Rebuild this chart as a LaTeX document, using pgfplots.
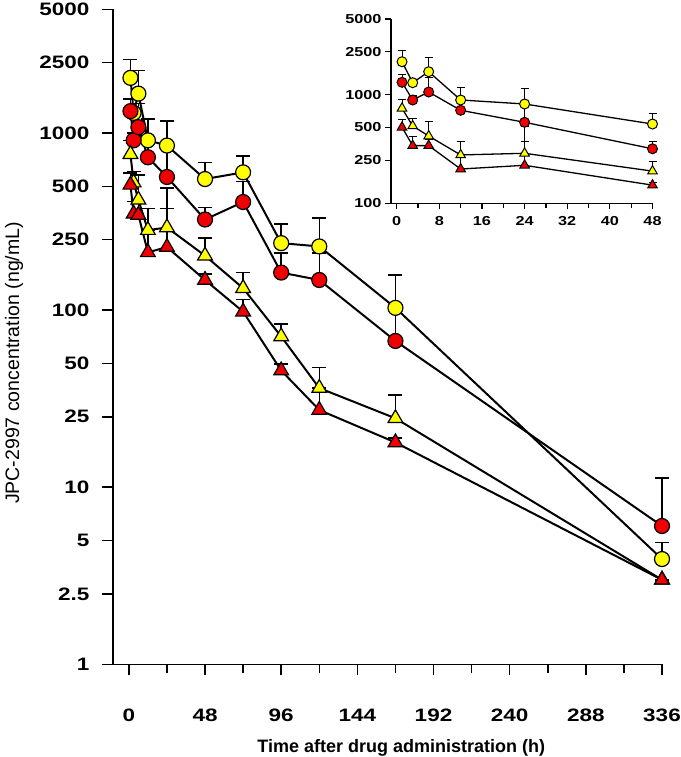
\documentclass[border=0pt]{standalone}
\usepackage{pgfplots}
\pgfplotsset{compat=1.18}
\usepackage{pgfplotstable}
\usepackage{fontspec}
\setmainfont{Liberation Sans}
\newfontfamily\tickfont[FakeStretch=1.25]{Liberation Sans}
\definecolor{cyel}{RGB}{255,255,0}
\definecolor{cred}{RGB}{240,0,0}

\pgfplotstableread{
t yc yce rc rce yt yte rt rte
1 2050 550 1330 230 760 148 510 84
3 1300 60 910 90 525 82 350 61
6 1670 580 1080 390 420 160 345 55
12 910 290 730 180 283 92 212 71
24 850 320 565 285 293 82 227 263
48 550 130 325 55 203 52 148 12
72 600 140 408 125 133 30 98 17
96 239 67 163 47 71 12.4 45.6 4.1
120 229 102 148 62 36.3 11.1 27.3 9
168 103 55 67 36 24.5 8.7 17.9 1.1
336 3.93 0.93 6.04 5.2 3.0 0 3.0 0
}\data

\pgfplotstableread{
t yc yce rc rce yt yte rt rte
1 2018 530 1304 220 751 157 502 92
3 1293 60 896 90 516 91 340 71
6 1633 585 1061 380 417 148 340 50
12 896 276 720 176 279 91 207 72
24 823 325 558 265 289 81 224 284
48 538 138 318 57 198 47 147 10
}\inset

\begin{document}
\begin{tikzpicture}[x=1pt,y=1pt]
\path[use as bounding box] (0,0) rectangle (680,757);
\begin{axis}[
  at={(113pt,92.7pt)}, anchor=south west,
  scale only axis, width=549pt, height=655pt,
  ymode=log, xmin=-10, xmax=336, ymin=1, ymax=5000,
  axis lines*=left,
  axis line style={line width=1.5pt},
  xtick={0,48,...,336}, minor xtick={24,72,...,312},
  xticklabels={0,48,96,144,192,240,288,336},
  ytick={1,2.5,5,10,25,50,100,250,500,1000,2500,5000},
  yticklabels={1,2.5,5,10,25,50,100,250,500,1000,2500,5000},
  yminorticks=false,
  tick align=outside,
  major tick length=11pt, minor tick length=9pt,
  every tick/.style={black, line width=1.5pt},
  ticklabel style={font=\tickfont\fontsize{18}{20}\selectfont\bfseries},
  xticklabel style={yshift=-30pt},
  yticklabel style={xshift=-9pt},
  xlabel={Time after drug administration (h)},
  xlabel style={font=\fontsize{18}{20}\selectfont\bfseries, at={(axis description cs:0.525,-0.128)}, anchor=center},
  ylabel={JPC-2997 concentration (ng/mL)},
  ylabel style={font=\fontsize{19.5}{22}\selectfont, at={(axis description cs:-0.18,0.46)}, anchor=center, rotate=0},
  clip=false,
]
\addplot[black, line width=2pt, mark=*, mark size=7.5pt, mark options={fill=cyel, draw=black, line width=1.2pt},
  error bars/.cd, y dir=plus, y explicit, error bar style={black, line width=1.5pt},
  error mark options={black, line width=1.5pt, mark size=7pt, rotate=90}] table[x=t, y=yc, y error=yce] {\data};
\addplot[black, line width=2pt, mark=*, mark size=7.5pt, mark options={fill=cred, draw=black, line width=1.2pt},
  error bars/.cd, y dir=plus, y explicit, error bar style={black, line width=1.5pt},
  error mark options={black, line width=1.5pt, mark size=7pt, rotate=90}] table[x=t, y=rc, y error=rce] {\data};
\addplot[black, line width=2pt, mark=triangle*, mark size=8.5pt, mark options={fill=cyel, draw=black, line width=1.2pt},
  error bars/.cd, y dir=plus, y explicit, error bar style={black, line width=1.5pt},
  error mark options={black, line width=1.5pt, mark size=7pt, rotate=90}] table[x=t, y=yt, y error=yte] {\data};
\addplot[black, line width=2pt, mark=triangle*, mark size=8.5pt, mark options={fill=cred, draw=black, line width=1.2pt},
  error bars/.cd, y dir=plus, y explicit, error bar style={black, line width=1.5pt},
  error mark options={black, line width=1.5pt, mark size=7pt, rotate=90}] table[x=t, y=rt, y error=rte] {\data};
\end{axis}

\begin{axis}[
  at={(391pt,553.7pt)}, anchor=south west,
  scale only axis, width=261.5pt, height=184.3pt,
  ymode=log, xmin=-1.07, xmax=48, ymin=100, ymax=5000,
  axis lines*=left,
  axis line style={line width=1.2pt},
  xtick={0,8,...,48}, minor xtick={4,12,...,44},
  xticklabels={0,8,16,24,32,40,48},
  ytick={100,250,500,1000,2500,5000},
  yticklabels={100,250,500,1000,2500,5000},
  yminorticks=false,
  tick align=outside,
  major tick length=6pt, minor tick length=5pt,
  every tick/.style={black, line width=1.2pt},
  ticklabel style={font=\tickfont\fontsize{13}{15}\selectfont\bfseries},
  xticklabel style={yshift=-4pt},
  clip=false,
]
\addplot[black, line width=1.3pt, mark=*, mark size=5pt, mark options={fill=cyel, draw=black, line width=1pt},
  error bars/.cd, y dir=plus, y explicit, error bar style={black, line width=1pt},
  error mark options={black, line width=1pt, mark size=4pt, rotate=90}] table[x=t, y=yc, y error=yce] {\inset};
\addplot[black, line width=1.3pt, mark=*, mark size=5pt, mark options={fill=cred, draw=black, line width=1pt},
  error bars/.cd, y dir=plus, y explicit, error bar style={black, line width=1pt},
  error mark options={black, line width=1pt, mark size=4pt, rotate=90}] table[x=t, y=rc, y error=rce] {\inset};
\addplot[black, line width=1.3pt, mark=triangle*, mark size=5.5pt, mark options={fill=cyel, draw=black, line width=1pt},
  error bars/.cd, y dir=plus, y explicit, error bar style={black, line width=1pt},
  error mark options={black, line width=1pt, mark size=4pt, rotate=90}] table[x=t, y=yt, y error=yte] {\inset};
\addplot[black, line width=1.3pt, mark=triangle*, mark size=5.5pt, mark options={fill=cred, draw=black, line width=1pt},
  error bars/.cd, y dir=plus, y explicit, error bar style={black, line width=1pt},
  error mark options={black, line width=1pt, mark size=4pt, rotate=90}] table[x=t, y=rt, y error=rte] {\inset};
\end{axis}
\end{tikzpicture}
\end{document}
